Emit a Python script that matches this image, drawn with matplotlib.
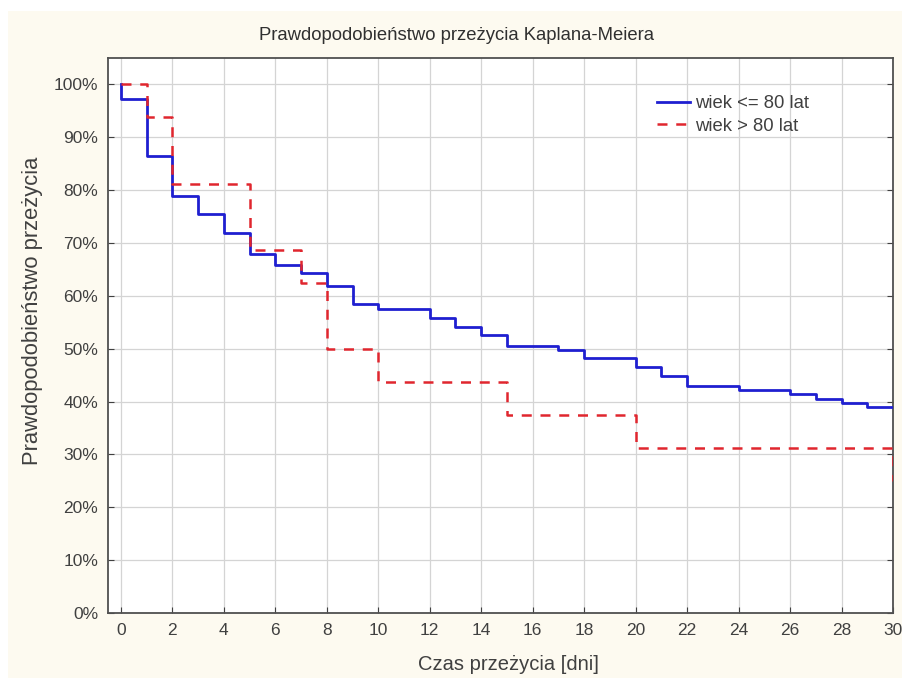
import numpy as np
import matplotlib.pyplot as plt
from matplotlib.patches import Rectangle

plt.rcParams['font.family'] = ['Liberation Sans', 'DejaVu Sans']

# Kaplan-Meier estimates (time in days, survival in %)
czas_mlodsi = [0, 0, 1, 2, 3, 4, 5, 6, 7, 8, 9, 10, 12, 13, 14, 15, 17, 18,
               20, 21, 22, 24, 26, 27, 28, 29, 30]
przezycie_mlodsi = [100, 97.3, 86.4, 78.8, 75.4, 71.8, 68.0, 65.9, 64.3, 61.9,
                    58.5, 57.5, 55.9, 54.2, 52.6, 50.6, 49.8, 48.2, 46.6, 44.9,
                    43.0, 42.2, 41.4, 40.5, 39.7, 38.9, 38.9]

czas_starsi = [0, 1, 2, 5, 7, 8, 10, 15, 20, 30]
przezycie_starsi = [100, 93.75, 81.25, 68.75, 62.5, 50.0, 43.75, 37.5, 31.25, 25.0]

x_ticks = list(range(0, 31, 2))
y_ticks = list(range(0, 101, 10))

tekst = '#404040'

fig = plt.figure(figsize=(9.02, 6.78), dpi=100, facecolor='white')
# cream background panel
fig.patches.append(Rectangle((8 / 902, 0), 1, 1 - 11 / 678, transform=fig.transFigure,
                             facecolor='#fdfaf0', edgecolor='none', zorder=-10))

ax = fig.add_axes([108 / 902, 65 / 678, 785 / 902, 555 / 678])
ax.set_facecolor('white')

ax.step(czas_mlodsi, przezycie_mlodsi, where='post', color='#1f1fd0', lw=2.0,
        label='wiek <= 80 lat', zorder=3)
ax.step(czas_starsi, przezycie_starsi, where='post', color='#e0262e', lw=1.8,
        dashes=(4, 3.5), label='wiek > 80 lat', zorder=4)

ax.set_xlim(-0.5, 30)
ax.set_ylim(0, 105)
ax.set_xticks(x_ticks)
ax.set_yticks(y_ticks)
ax.set_yticklabels([f'{v}%' for v in y_ticks])
ax.grid(True, color='#d4d4d4', lw=0.9)
ax.set_axisbelow(True)
ax.tick_params(direction='in', length=4, color=tekst, labelcolor=tekst,
               labelsize=12.5, right=True, pad=7)
for s in ax.spines.values():
    s.set_color('#505050')
    s.set_linewidth(1.3)

# title is centred on the whole picture, not on the plot area
fig.text(457 / 902, 1 - 35 / 678, 'Prawdopodobieństwo przeżycia Kaplana-Meiera',
         fontsize=13.3, color='#303030', ha='center', va='center')
ax.set_xlabel('Czas przeżycia [dni]', fontsize=14.5, color=tekst)
ax.xaxis.set_label_coords(0.51, -0.075)
ax.set_ylabel('Prawdopodobieństwo przeżycia', fontsize=15.8, color=tekst)
ax.yaxis.set_label_coords(-0.083, 0.545)

ax.legend(loc='upper left', bbox_to_anchor=(0.699, 0.933), frameon=False,
          borderpad=0, borderaxespad=0, fontsize=13.3, handlelength=1.8,
          handletextpad=0.3, labelspacing=0.3, labelcolor=tekst)

fig.savefig('out.png', dpi=100, facecolor=fig.get_facecolor())
